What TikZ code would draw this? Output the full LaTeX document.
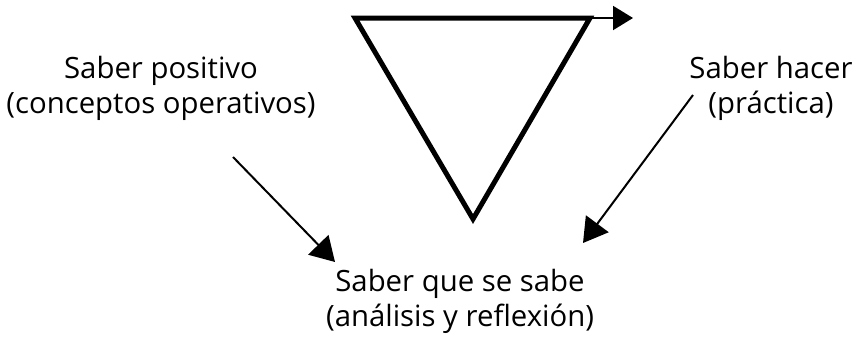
\documentclass[tikz,border=0pt]{standalone}
\usepackage{fontspec}
\setmainfont{Open Sans}
\usetikzlibrary{arrows.meta}
\tikzset{
  saber/.style={align=center,font=\fontsize{22}{26.3}\selectfont,inner sep=0pt},
  flecha/.style={line width=1.5pt,-{Triangle[length=18pt,width=21pt]}},
}
\begin{document}
\begin{tikzpicture}[x=0.75pt,y=-0.75pt]
	\useasboundingbox (0,0) rectangle (866,339);
	% triangulo
	\coordinate (tl) at (355,18);
	\coordinate (tr) at (590,18);
	\coordinate (bot) at (473,219);
	\draw[line width=3.75pt,miter limit=10] (tl) -- (tr) -- (bot) -- cycle;
	\coordinate (tip) at (633,18);
	\draw[line width=1.5pt,-{Triangle[length=15pt,width=18pt]}] (tr) -- (tip);
	% textos
	\node[saber] (positivo) at (161,88) {Saber positivo\\(conceptos operativos)};
	\node[saber] (hacer) at (771,88) {Saber hacer\\(pr\'actica)};
	\node[saber] (sabe) at (460,301) {Saber que se sabe\\(an\'alisis y reflexi\'on)};
	% flechas
	\coordinate (p1) at (233,157);
	\coordinate (p2) at (335,262);
	\coordinate (h1) at (693,95);
	\coordinate (h2) at (583,243);
	\draw[flecha] (p1) -- (p2);
	\draw[flecha] (h1) -- (h2);
\end{tikzpicture}
\end{document}
